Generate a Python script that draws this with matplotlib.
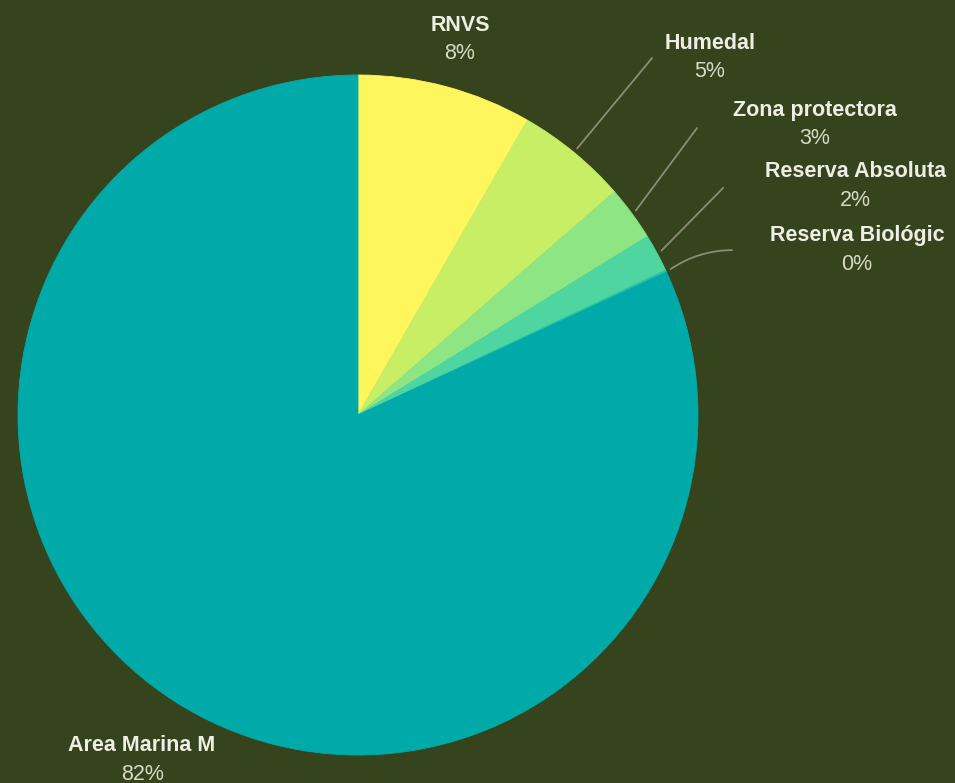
import numpy as np
import matplotlib.pyplot as plt
from matplotlib.patches import FancyArrowPatch

plt.rcParams['font.family'] = ['Liberation Sans', 'DejaVu Sans']

# Protected area categories and their share of total area (%)
categories = ['RNVS', 'Humedal', 'Zona protectora', 'Reserva Absoluta',
              'Reserva Biológic', 'Area Marina M']
shares = [8.3, 5.3, 2.6, 1.8, 0.1, 81.9]
colors = ['#fff55c', '#c8ee66', '#8de583', '#4fd6a0', '#25c4a6', '#00aaa8']

bg = '#35441d'
name_color = '#eeeee4'
pct_color = '#d6d9c4'
line_color = '#8a8d78'

# label placement (data units, pie radius = 1)
label_pos = [(0.30, 1.147), (1.035, 1.094), (1.344, 0.897),
             (1.462, 0.715), (1.468, 0.529), (-0.635, -0.971)]
leader_end = [None, (0.865, 1.05), (0.997, 0.844), (1.074, 0.668),
              (1.10, 0.485), None]

fig = plt.figure(figsize=(9.55, 7.83), dpi=100, facecolor=bg)
ax = fig.add_axes([0, 0, 1, 1])
ax.set_facecolor(bg)

wedges, _ = ax.pie(shares, colors=colors, startangle=90, counterclock=False,
                   radius=1, wedgeprops=dict(linewidth=0))
# close the thin seams between neighbouring wedges
for w in wedges:
    w.set_edgecolor(w.get_facecolor())
    w.set_linewidth(0.6)

# pixel layout: centre at (358, 415), radius 340 px
scale = 340.0
ax.set_xlim(-358 / scale, (955 - 358) / scale)
ax.set_ylim(-(783 - 415) / scale, 415 / scale)
ax.set_aspect('equal')
ax.axis('off')

total = sum(shares)
cum = np.cumsum([0] + shares)
for i, cat in enumerate(categories):
    pct = shares[i] / total * 100
    lx, ly = label_pos[i]
    ax.text(lx, ly, cat, ha='center', va='center', fontsize=15.5,
            fontweight='bold', color=name_color)
    ax.text(lx, ly - 0.085, f'{pct:.0f}%', ha='center', va='center',
            fontsize=15.5, color=pct_color)

    if leader_end[i] is None:
        continue
    mid = (cum[i] + cum[i + 1]) / 2 / total * 2 * np.pi
    sx, sy = 1.015 * np.sin(mid), 1.015 * np.cos(mid)
    ex, ey = leader_end[i]
    rad = -0.15 if i == 4 else 0.0
    ax.add_patch(FancyArrowPatch((sx, sy), (ex, ey), arrowstyle='-',
                                 connectionstyle=f'arc3,rad={rad}',
                                 color=line_color, lw=1.3,
                                 shrinkA=0, shrinkB=0))

fig.savefig('out.png', dpi=100, facecolor=bg)
